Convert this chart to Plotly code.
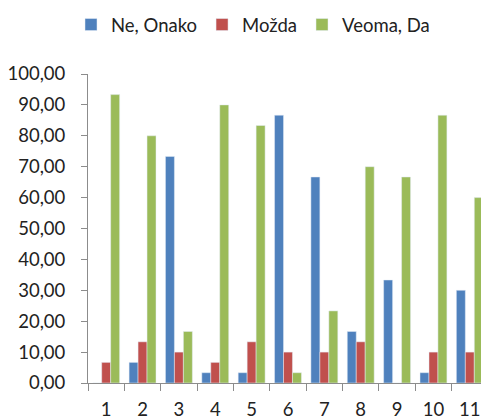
import plotly.graph_objects as go

categories = ["1", "2", "3", "4", "5", "6", "7", "8", "9", "10", "11"]
ne_onako = [0, 6.67, 73.33, 3.33, 3.33, 86.67, 66.67, 16.67, 33.33, 3.33, 30.0]
mozda = [6.67, 13.33, 10.0, 6.67, 13.33, 10.0, 10.0, 13.33, 0, 10.0, 10.0]
veoma_da = [93.33, 80.0, 16.67, 90.0, 83.33, 3.33, 23.33, 70.0, 66.67, 86.67, 60.0]
y_ticks = [0, 10, 20, 30, 40, 50, 60, 70, 80, 90, 100]

font = "Lato, Open Sans, sans-serif"
fig = go.Figure()
fig.add_bar(x=categories, y=ne_onako, name="Ne, Onako", marker_color="#4F81BD")
fig.add_bar(x=categories, y=mozda, name="Možda", marker_color="#C0504D")
fig.add_bar(x=categories, y=veoma_da, name="Veoma, Da", marker_color="#9BBB59")

# page has an 8px body margin, so the figure is 481x411 and offset by 8px
fig.update_layout(
    width=481, height=411,
    margin=dict(l=80, r=1, t=66, b=36, autoexpand=False),
    paper_bgcolor="white", plot_bgcolor="white",
    barmode="group", bargap=0.26, bargroupgap=0,
    separators=",.",
    font=dict(family=font, size=18, color="#222222"),
    legend=dict(orientation="h", xref="container", x=63/481, xanchor="left",
                yref="container", y=1 - 17/411, yanchor="middle",
                font=dict(size=18.5), itemwidth=30, traceorder="normal"),
    showlegend=True,
)
fig.update_yaxes(range=[0, 100], tickvals=y_ticks, tickformat=".2f",
                 showgrid=False, showline=True, linecolor="#8C8C8C", linewidth=1,
                 ticks="outside", ticklen=6, tickcolor="#8C8C8C", zeroline=False,
                 tickfont=dict(size=18.5), automargin=False, ticklabelstandoff=12)
fig.update_xaxes(showgrid=False, showline=True, linecolor="#8C8C8C", linewidth=1,
                 ticks="outside", ticklen=7, tickcolor="#8C8C8C", tickson="boundaries",
                 tickfont=dict(size=18.5), automargin=False, ticklabelstandoff=10)

fig.write_html("out.html")
